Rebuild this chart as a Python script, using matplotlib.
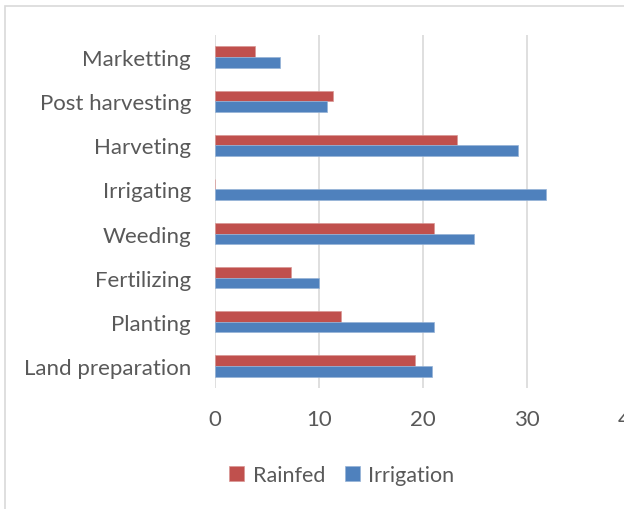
import numpy as np
import matplotlib
matplotlib.use("Agg")
import matplotlib.pyplot as plt
from matplotlib.patches import Rectangle

plt.rcParams['font.family'] = ['Lato', 'DejaVu Sans']

# data, bottom to top as drawn
activities = ["Land preparation", "Planting", "Fertilizing", "Weeding",
              "Irrigating", "Harveting", "Post harvesting", "Marketting"]
rainfed = [19.2, 12.1, 7.3, 21.1, 0, 23.3, 11.4, 3.9]
irrigation = [20.9, 21.1, 10.0, 24.9, 31.8, 29.1, 10.8, 6.3]
xticks = [0, 10, 20, 30, 40]

red = "#C0504D"
blue = "#4F81BD"
txt = "#595959"

W, H = 624, 510
fig = plt.figure(figsize=(W / 100, H / 100), dpi=100)
# chart frame (right edge is cut off in the original)
fig.patches.append(Rectangle((5 / W, -0.01), 1.0, (H - 7) / H + 0.01, transform=fig.transFigure,
                             fill=False, edgecolor="#d9d9d9", linewidth=1.2))

ax = fig.add_axes([214.7 / W, (H - 389) / H, (631 - 214.7) / W, 353 / H])
y = np.arange(len(activities))
h = 0.24
ax.barh(y + h / 2, rainfed, height=h, color=red, edgecolor="#d99694", linewidth=0.5, label="Rainfed", zorder=3)
ax.barh(y - h / 2, irrigation, height=h, color=blue, edgecolor="#95b3d7", linewidth=0.5, label="Irrigation", zorder=3)

ax.set_xlim(0, 40)
ax.set_ylim(-0.5, len(activities) - 0.5)
ax.set_xticks(xticks)
ax.set_yticks(y)
ax.set_yticklabels(activities)
ax.grid(axis="x", color="#d9d9d9", linewidth=1.2, zorder=0)
for s in ax.spines.values():
    s.set_visible(False)
ax.tick_params(axis="both", length=0, labelsize=16, colors=txt)
ax.tick_params(axis="y", pad=17)
ax.tick_params(axis="x", pad=15)

leg = fig.legend(loc="center", bbox_to_anchor=(342 / W, 1 - 476 / H), ncol=2, frameon=False,
                 fontsize=15.5, handlelength=0.7, handleheight=0.7, handletextpad=0.4, columnspacing=0.9)
for t in leg.get_texts():
    t.set_color(txt)

fig.savefig("out.png", dpi=100)
